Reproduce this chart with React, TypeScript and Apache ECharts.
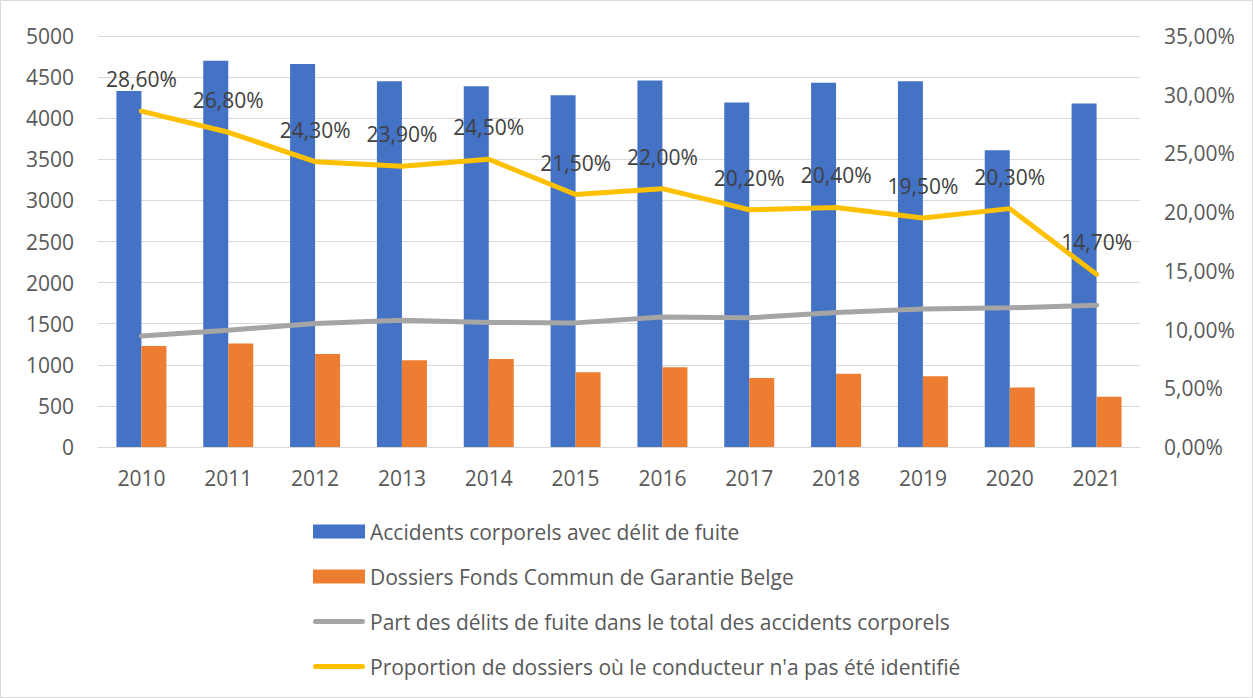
import React, { useEffect, useRef } from "react";
import * as echarts from "echarts";

const years = ["2010", "2011", "2012", "2013", "2014", "2015", "2016", "2017", "2018", "2019", "2020", "2021"];
const accidents = [4330, 4700, 4660, 4450, 4390, 4280, 4460, 4190, 4430, 4450, 3610, 4180];
const dossiers = [1230, 1260, 1130, 1055, 1070, 910, 970, 840, 890, 860, 725, 610];
const partDelits = [0.0946, 0.0995, 0.1052, 0.108, 0.106, 0.1057, 0.1108, 0.11, 0.1146, 0.1176, 0.1185, 0.1208];
const proportionNonIdentifie = [0.286, 0.268, 0.243, 0.239, 0.245, 0.215, 0.22, 0.202, 0.204, 0.195, 0.203, 0.147];

const seriesNames = [
  "Accidents corporels avec délit de fuite",
  "Dossiers Fonds Commun de Garantie Belge",
  "Part des délits de fuite dans le total des accidents corporels",
  "Proportion de dossiers où le conducteur n'a pas été identifié",
];

const FONT = "Open Sans";
const FS = 21;
const pct = (v: number) => (v * 100).toFixed(2).replace(".", ",") + "%";
const LINE_ICON = "path://M2.5,0 L49.5,0 A2.5,2.5 0 0 1 49.5,5 L2.5,5 A2.5,2.5 0 0 1 2.5,0 Z";

export default function App() {
  const ref = useRef<HTMLDivElement>(null);
  useEffect(() => {
    if (!ref.current) return;
    const chart = echarts.init(ref.current, undefined, { renderer: "svg" });
    chart.setOption({
      animation: false,
      backgroundColor: "#ffffff",
      textStyle: { fontFamily: FONT },
      graphic: [
        {
          type: "rect",
          shape: { x: 0.5, y: 0.5, width: 1252, height: 697 },
          style: { fill: "none", stroke: "#d9d9d9", lineWidth: 1 },
          silent: true,
        },
      ],
      grid: { left: 98, right: 113, top: 36, bottom: 251, containLabel: false },
      legend: {
        orient: "vertical",
        left: 313,
        top: 518,
        padding: 0,
        itemWidth: 52,
        itemHeight: 14,
        itemGap: 18,
        textStyle: { fontFamily: FONT, fontSize: FS, color: "#595959", lineHeight: 27 },
        data: [
          { name: seriesNames[0], icon: "rect" },
          { name: seriesNames[1], icon: "rect" },
          { name: seriesNames[2], icon: LINE_ICON },
          { name: seriesNames[3], icon: LINE_ICON },
        ],
      },
      xAxis: {
        type: "category",
        data: years,
        axisLine: { lineStyle: { color: "#d9d9d9", width: 1 } },
        axisTick: { show: false },
        axisLabel: { color: "#595959", fontSize: FS, fontFamily: FONT, margin: 20 },
      },
      yAxis: [
        {
          type: "value",
          min: 0,
          max: 5000,
          interval: 500,
          axisLine: { show: false },
          axisTick: { show: false },
          splitLine: { lineStyle: { color: "#d9d9d9", width: 1 } },
          axisLabel: {
            color: "#595959",
            fontSize: FS,
            fontFamily: FONT,
            margin: 24,
            formatter: (v: number) => String(v),
          },
        },
        {
          type: "value",
          min: 0,
          max: 0.35,
          interval: 0.05,
          axisLine: { show: false },
          axisTick: { show: false },
          splitLine: { show: false },
          axisLabel: {
            color: "#595959",
            fontSize: FS,
            fontFamily: FONT,
            margin: 24,
            formatter: (v: number) => pct(v),
          },
        },
      ],
      series: [
        {
          name: seriesNames[0],
          type: "bar",
          data: accidents,
          barWidth: 25,
          barGap: "0%",
          itemStyle: { color: "#4472C4" },
        },
        {
          name: seriesNames[1],
          type: "bar",
          data: dossiers,
          barWidth: 25,
          barGap: "0%",
          itemStyle: { color: "#ED7D31" },
        },
        {
          name: seriesNames[2],
          type: "line",
          yAxisIndex: 1,
          data: partDelits,
          symbol: "none",
          lineStyle: { color: "#A5A5A5", width: 5, cap: "round" },
          itemStyle: { color: "#A5A5A5" },
        },
        {
          name: seriesNames[3],
          type: "line",
          yAxisIndex: 1,
          data: proportionNonIdentifie,
          symbol: "circle",
          symbolSize: 1,
          showSymbol: true,
          lineStyle: { color: "#FFC000", width: 5, cap: "round" },
          itemStyle: { color: "#FFC000" },
          label: {
            show: true,
            position: "top",
            distance: 21,
            color: "#404040",
            fontSize: FS,
            fontFamily: FONT,
            formatter: (p: any) => pct(p.value),
          },
        },
      ],
    });
    return () => chart.dispose();
  }, []);
  return <div ref={ref} style={{ position: "fixed", left: 0, top: 0, width: 1253, height: 698 }} />;
}
